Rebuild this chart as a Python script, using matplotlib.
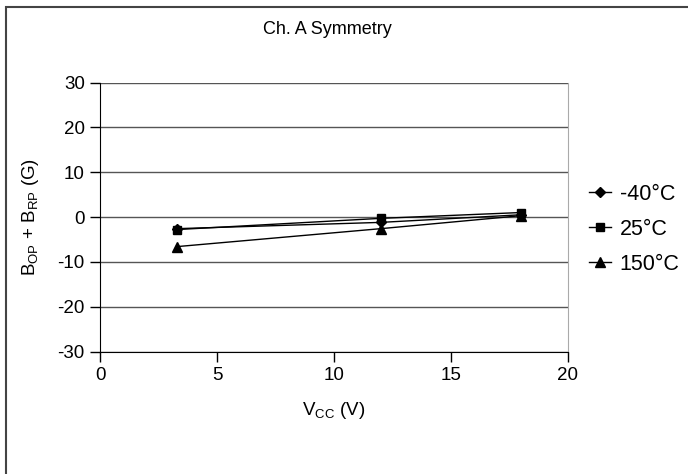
import matplotlib
matplotlib.use('Agg')
import matplotlib.pyplot as plt
import matplotlib as mpl
from matplotlib.patches import Rectangle

mpl.rcParams['font.family'] = 'Liberation Sans'
mpl.rcParams['font.size'] = 13
mpl.rcParams['axes.unicode_minus'] = False
mpl.rcParams['mathtext.fontset'] = 'custom'
mpl.rcParams['mathtext.rm'] = 'Liberation Sans'
mpl.rcParams['mathtext.it'] = 'Liberation Sans:italic'

# supply voltage (V)
vcc = [3.3, 12, 18]
# B_OP + B_RP (G) per temperature
sym_m40 = [-2.6, -1.2, 0.5]
sym_25 = [-2.8, -0.3, 1.0]
sym_150 = [-6.6, -2.6, 0.3]
labels = ['-40°C', '25°C', '150°C']
markers = ['D', 's', '^']
msizes = [5.5, 5.5, 7.5]

fig = plt.figure(figsize=(6.88, 4.74), dpi=100)
ax = fig.add_axes([100/688, 1 - 351.5/474, 468/688, 269/474])

for ys, lab, mk, ms in zip([sym_m40, sym_25, sym_150], labels, markers, msizes):
    ax.plot(vcc, ys, color='black', lw=1, marker=mk, markersize=ms, label=lab)

ax.set_xlim(0, 20)
ax.set_ylim(-30, 30)
ax.set_xticks([0, 5, 10, 15, 20])
ax.set_yticks([-30, -20, -10, 0, 10, 20, 30])
ax.yaxis.grid(True, color='#555555', lw=1)
ax.set_axisbelow(True)
ax.spines['top'].set_visible(False)
ax.spines['right'].set_color('#aaaaaa')
ax.spines['left'].set_color('black')
ax.spines['bottom'].set_color('black')
ax.tick_params(direction='out', length=7, width=1, pad=4, labelsize=13.5)

ax.set_xlabel(r'V$_\mathrm{CC}$ (V)', fontsize=13.5, labelpad=12)
ax.set_ylabel(r'B$_\mathrm{OP}$ + B$_\mathrm{RP}$ (G)', fontsize=13.5, labelpad=12)
fig.text(327/688, 1 - 30/474, 'Ch. A Symmetry', ha='center', va='center', fontsize=13)

ax.legend(loc='center left', bbox_to_anchor=(1.045, 0.455), frameon=False,
          borderpad=0, borderaxespad=0,
          handlelength=1.0, handletextpad=0.42, labelspacing=0.65, fontsize=15.5)

# outer chart border
fig.patches.append(Rectangle((6/688, -0.1), 1.2, 1.1 - 7/474, transform=fig.transFigure,
                             fill=False, edgecolor='#444444', lw=1.5))

fig.savefig('out.png', dpi=100)
